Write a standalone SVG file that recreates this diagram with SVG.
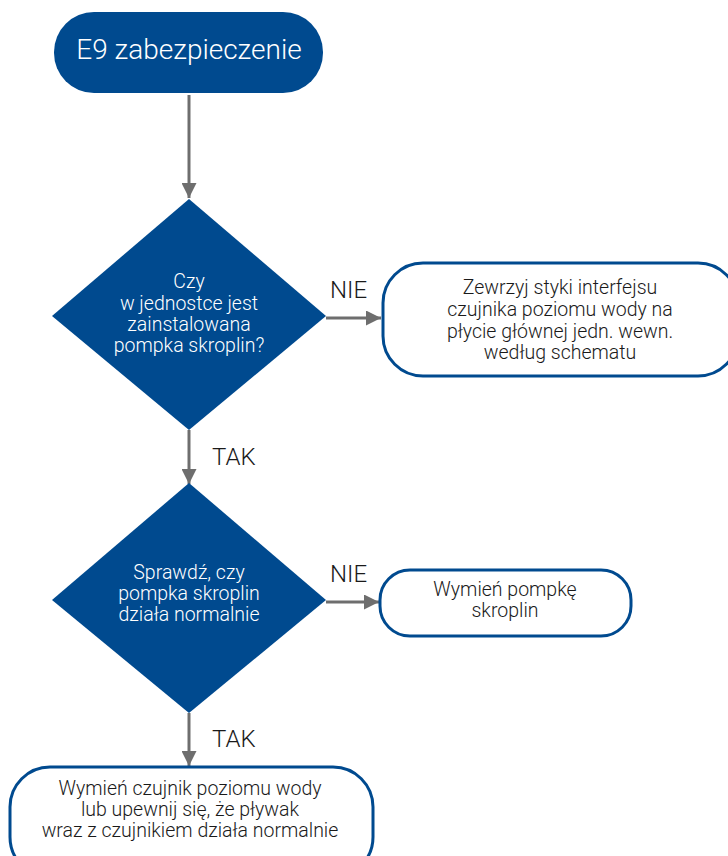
<svg xmlns="http://www.w3.org/2000/svg" width="728" height="856" viewBox="0 0 728 856">
  <style>
    .term { fill: #004a8f; }
    .dec { fill: #004a8f; }
    .box { fill: #ffffff; stroke: #004a8f; stroke-width: 3; }
    .wt { fill: #ffffff; font-family: Roboto, "Liberation Sans", Arial, sans-serif; font-weight: 300; font-size: 19.5px; text-anchor: middle; }
    .bt { fill: #1a1a1a; font-family: Roboto, "Liberation Sans", Arial, sans-serif; font-weight: 300; font-size: 19.5px; text-anchor: middle; }
    .lbl { fill: #1a1a1a; font-family: Roboto, "Liberation Sans", Arial, sans-serif; font-weight: 300; font-size: 24px; }
    .conn { stroke: #6e6e6e; stroke-width: 3; fill: none; marker-end: url(#arrow); }
  </style>
  <defs>
    <marker id="arrow" viewBox="0 0 10 10" refX="10" refY="5" markerWidth="6.5" markerHeight="5" markerUnits="strokeWidth" orient="auto">
      <path d="M0,0 L10,5 L0,10 Z" fill="#6e6e6e"/>
    </marker>
  </defs>

  <rect width="728" height="856" fill="#ffffff"/>

  <g id="connectors">
    <line class="conn" x1="189" y1="95" x2="189" y2="198"/>
    <line class="conn" x1="326" y1="318" x2="381" y2="318"/>
    <line class="conn" x1="189" y1="430" x2="189" y2="484"/>
    <line class="conn" x1="326" y1="602" x2="379" y2="602"/>
    <line class="conn" x1="189" y1="713" x2="189" y2="766"/>
    <text class="lbl" x="330" y="298">NIE</text>
    <text class="lbl" x="212" y="465">TAK</text>
    <text class="lbl" x="330" y="582">NIE</text>
    <text class="lbl" x="212" y="747">TAK</text>
  </g>

  <g id="start">
    <rect class="term" x="54" y="12" width="269" height="81" rx="40"/>
    <text x="189" y="59" fill="#ffffff" font-family="Roboto, Liberation Sans, Arial, sans-serif" font-weight="300" font-size="28" text-anchor="middle">E9 zabezpieczenie</text>
  </g>

  <g id="decision-pump-installed">
    <polygon class="dec" points="189,199 326,316 189,430 52,316"/>
    <text class="wt" x="189" y="288">Czy</text>
    <text class="wt" x="189" y="310">w jednostce jest</text>
    <text class="wt" x="189" y="331">zainstalowana</text>
    <text class="wt" x="189" y="352">pompka skroplin?</text>
  </g>

  <g id="short-contacts">
    <rect class="box" x="383" y="263" width="355" height="113" rx="40"/>
    <text class="bt" x="560" y="294">Zewrzyj styki interfejsu</text>
    <text class="bt" x="560" y="316">czujnika poziomu wody na</text>
    <text class="bt" x="560" y="338">płycie głównej jedn. wewn.</text>
    <text class="bt" x="560" y="359">według schematu</text>
  </g>

  <g id="decision-pump-works">
    <polygon class="dec" points="189,483 326,600 189,713 52,600"/>
    <text class="wt" x="189" y="579">Sprawdź, czy</text>
    <text class="wt" x="189" y="600">pompka skroplin</text>
    <text class="wt" x="189" y="621">działa normalnie</text>
  </g>

  <g id="replace-pump">
    <rect class="box" x="380" y="570" width="251" height="66" rx="30"/>
    <text class="bt" x="505" y="596">Wymień pompkę</text>
    <text class="bt" x="505" y="617">skroplin</text>
  </g>

  <g id="replace-sensor">
    <rect class="box" x="10" y="767" width="363" height="110" rx="40"/>
    <text class="bt" x="190" y="795">Wymień czujnik poziomu wody</text>
    <text class="bt" x="190" y="816">lub upewnij się, że pływak</text>
    <text class="bt" x="190" y="837">wraz z czujnikiem działa normalnie</text>
  </g>
</svg>
